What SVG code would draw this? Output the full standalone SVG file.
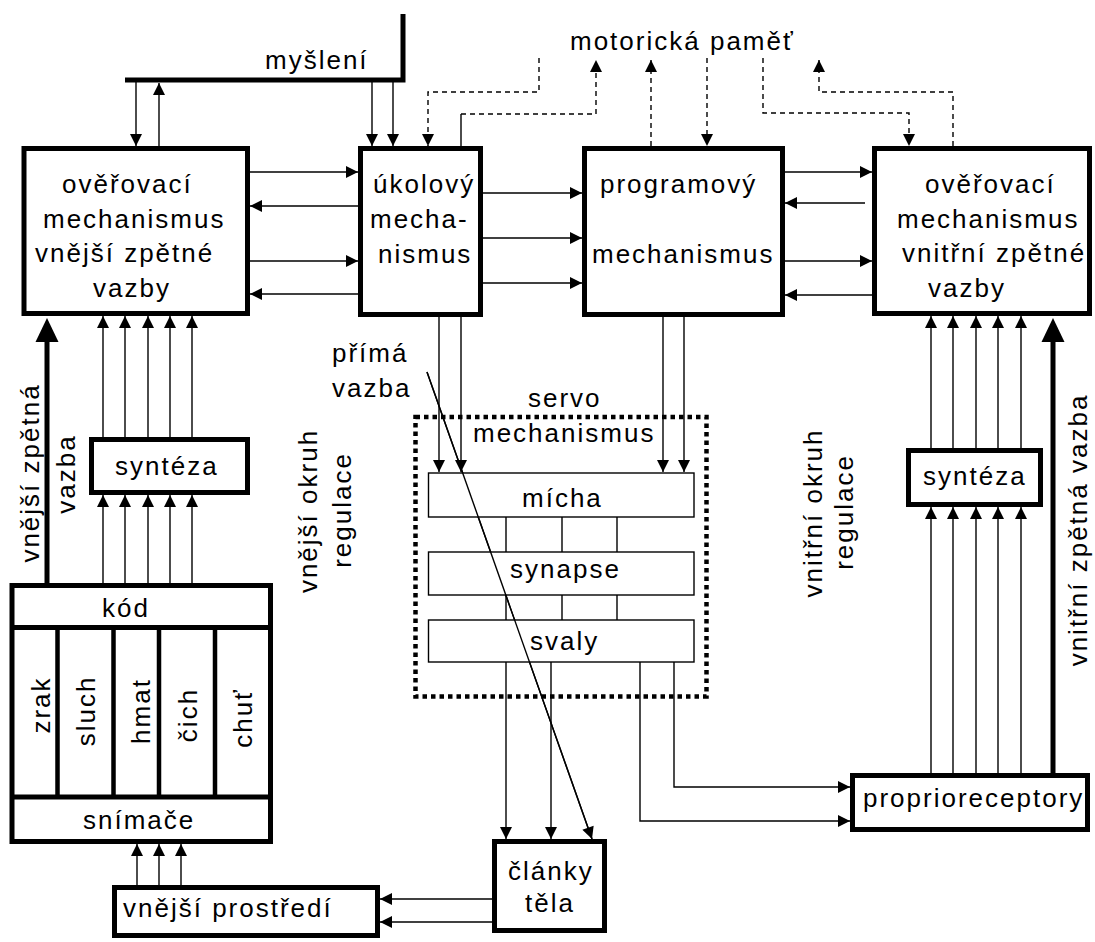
<svg xmlns="http://www.w3.org/2000/svg" width="1095" height="942" viewBox="0 0 1095 942">
  <defs>
    <style>
      text { font-family: "Liberation Sans", Arial, sans-serif; font-size: 26px; letter-spacing: 2px; fill: #000; }
      .box { fill: #fff; stroke: #000; stroke-width: 5; }
      .cell { fill: #fff; stroke: #000; stroke-width: 1.4; }
      .div { stroke: #000; stroke-width: 5; fill: none; }
      .ln { fill: none; stroke: #000; stroke-width: 1.4; }
      .ds { stroke-dasharray: 5 4; }
      .thick { fill: none; stroke: #000; stroke-width: 5; }
      .arr { marker-end: url(#ah); }
      .big { marker-end: url(#ahBig); }
    </style>
    <marker id="ah" markerUnits="userSpaceOnUse" markerWidth="12" markerHeight="12" refX="12" refY="6" orient="auto" overflow="visible">
      <path d="M0,0 L12,6 L0,12 Z" fill="#000"/>
    </marker>
    <marker id="ahBig" markerUnits="userSpaceOnUse" markerWidth="24" markerHeight="23" refX="0" refY="11.5" orient="auto" overflow="visible">
      <path d="M0,0 L24,11.5 L0,23 Z" fill="#000"/>
    </marker>
  </defs>

  <rect x="0" y="0" width="1095" height="942" fill="#fff"/>

  <!-- connectors -->
  <g id="connectors">
    <!-- thinking bar -->
    <path class="thick" d="M403,14 V80 H125"/>
    <path class="ln arr" d="M136,80 V146"/>
    <path class="ln arr" d="M159,146 V83"/>
    <path class="ln arr" d="M372,80 V146"/>
    <path class="ln arr" d="M393,80 V146"/>

    <!-- motor memory links -->
    <path class="ln ds arr" d="M539,58 V92 H428 V146"/>
    <path class="ln" d="M461,146 V114"/>
    <path class="ln ds arr" d="M461,114 H596 V60"/>
    <path class="ln ds arr" d="M651,146 V60"/>
    <path class="ln ds arr" d="M707,58 V146"/>
    <path class="ln ds arr" d="M763,58 V113 H909 V146"/>
    <path class="ln ds arr" d="M953,146 V92 H819 V60"/>

    <!-- between upper boxes -->
    <path class="ln arr" d="M250,172 H358"/>
    <path class="ln arr" d="M358,206 H250"/>
    <path class="ln arr" d="M250,261 H358"/>
    <path class="ln arr" d="M358,294 H250"/>
    <path class="ln arr" d="M483,193 H582"/>
    <path class="ln arr" d="M483,238 H582"/>
    <path class="ln arr" d="M483,283 H582"/>
    <path class="ln arr" d="M785,172 H872"/>
    <path class="ln arr" d="M865,203 H785"/>
    <path class="ln arr" d="M785,261 H872"/>
    <path class="ln arr" d="M872,295 H785"/>

    <!-- left column -->
    <path class="ln arr" d="M103,437 V316"/>
    <path class="ln arr" d="M125,437 V316"/>
    <path class="ln arr" d="M148,437 V316"/>
    <path class="ln arr" d="M170,437 V316"/>
    <path class="ln arr" d="M192,437 V316"/>
    <path class="ln arr" d="M103,583 V495"/>
    <path class="ln arr" d="M125,583 V495"/>
    <path class="ln arr" d="M148,583 V495"/>
    <path class="ln arr" d="M170,583 V495"/>
    <path class="ln arr" d="M192,583 V495"/>
    <path class="ln arr" d="M137,885 V844"/>
    <path class="ln arr" d="M159,885 V844"/>
    <path class="ln arr" d="M181,885 V844"/>
    <path class="thick big" d="M47,583 V342"/>

    <!-- right column -->
    <path class="ln arr" d="M931,448 V316"/>
    <path class="ln arr" d="M953,448 V316"/>
    <path class="ln arr" d="M976,448 V316"/>
    <path class="ln arr" d="M998,448 V316"/>
    <path class="ln arr" d="M1021,448 V316"/>
    <path class="ln arr" d="M931,773 V507"/>
    <path class="ln arr" d="M953,773 V507"/>
    <path class="ln arr" d="M976,773 V507"/>
    <path class="ln arr" d="M998,773 V507"/>
    <path class="ln arr" d="M1021,773 V507"/>
    <path class="thick big" d="M1053,774 V342"/>

    <!-- into the spinal cord -->
    <path class="ln arr" d="M439,317 V472"/>
    <path class="ln arr" d="M461,317 V472"/>
    <path class="ln arr" d="M663,317 V472"/>
    <path class="ln arr" d="M684,317 V472"/>

    <!-- servo internal links -->
    <path class="ln" d="M506,517 V552 M562,517 V552 M617,517 V552"/>
    <path class="ln" d="M506,595 V620 M562,595 V620 M617,595 V620"/>

    <!-- from muscles -->
    <path class="ln arr" d="M506,662 V839"/>
    <path class="ln arr" d="M551,662 V839"/>
    <path class="ln arr" d="M674,662 V787 H850"/>
    <path class="ln arr" d="M640,662 V821 H850"/>

    <!-- direct link -->
    <path class="ln arr" d="M427,372 L592,839"/>

    <!-- body segments to environment -->
    <path class="ln arr" d="M493,899 H380"/>
    <path class="ln arr" d="M493,922 H380"/>
  </g>

  <!-- labels without boxes -->
  <g id="labels">
    <text x="265" y="69">myšlení</text>
    <text x="570" y="50">motorická paměť</text>
    <text x="332" y="362">přímá</text>
    <text x="332" y="397">vazba</text>
    <text transform="translate(39,473) rotate(-90)" text-anchor="middle">vnější zpětná</text>
    <text transform="translate(75,474) rotate(-90)" text-anchor="middle">vazba</text>
    <text transform="translate(317,511) rotate(-90)" text-anchor="middle">vnější okruh</text>
    <text transform="translate(351,510) rotate(-90)" text-anchor="middle">regulace</text>
    <text transform="translate(822,513) rotate(-90)" text-anchor="middle">vnitřní okruh</text>
    <text transform="translate(853,512) rotate(-90)" text-anchor="middle">regulace</text>
    <text transform="translate(1087,530) rotate(-90)" text-anchor="middle">vnitřní zpětná vazba</text>
  </g>

  <g id="overovaci-vnejsi">
    <rect class="box" x="24" y="148.5" width="223.5" height="165"/>
    <text x="62" y="193">ověřovací</text>
    <text x="43" y="228">mechanismus</text>
    <text x="35" y="262">vnější zpětné</text>
    <text x="93" y="297">vazby</text>
  </g>

  <g id="ukolovy">
    <rect class="box" x="360.5" y="148.5" width="120" height="166"/>
    <text x="373" y="193">úkolový</text>
    <text x="370" y="228">mecha-</text>
    <text x="378" y="263">nismus</text>
  </g>

  <g id="programovy">
    <rect class="box" x="584.5" y="148.5" width="198" height="166"/>
    <text x="600" y="193">programový</text>
    <text x="592" y="263">mechanismus</text>
  </g>

  <g id="overovaci-vnitrni">
    <rect class="box" x="874.5" y="148.5" width="215" height="165"/>
    <text x="925" y="193">ověřovací</text>
    <text x="897" y="228">mechanismus</text>
    <text x="902" y="262">vnitřní zpětné</text>
    <text x="928" y="297">vazby</text>
  </g>

  <g id="synteza-vnejsi">
    <rect class="box" x="91.5" y="439.5" width="156" height="53"/>
    <text x="115" y="475">syntéza</text>
  </g>

  <g id="synteza-vnitrni">
    <rect class="box" x="908.5" y="450.5" width="132" height="54"/>
    <text x="923" y="485">syntéza</text>
  </g>

  <g id="smysly">
    <rect class="box" x="12" y="585.5" width="258.5" height="256"/>
    <path class="div" d="M12,627.5 H270.5 M12,797 H270.5"/>
    <path class="div" d="M57.5,627.5 V797 M113.5,627.5 V797 M159,627.5 V797 M215,627.5 V797" style="stroke-width:4.5"/>
    <text x="102" y="617">kód</text>
    <text x="83" y="829">snímače</text>
    <text transform="translate(50,705) rotate(-90)" text-anchor="middle">zrak</text>
    <text transform="translate(95,711) rotate(-90)" text-anchor="middle">sluch</text>
    <text transform="translate(150,711) rotate(-90)" text-anchor="middle">hmat</text>
    <text transform="translate(197,715) rotate(-90)" text-anchor="middle">čich</text>
    <text transform="translate(252,718) rotate(-90)" text-anchor="middle">chuť</text>
  </g>

  <g id="vnejsi-prostredi">
    <rect class="box" x="114.5" y="887.5" width="263" height="48"/>
    <text x="123" y="917">vnější prostředí</text>
  </g>

  <g id="servo">
    <rect x="415.5" y="417" width="291" height="279.5" fill="none" stroke="#000" stroke-width="4.5" stroke-dasharray="4.5 4"/>
    <text x="528" y="407">servo</text>
    <text x="473" y="442">mechanismus</text>
  </g>

  <g id="micha">
    <rect class="cell" x="428.5" y="473" width="265.5" height="44"/>
    <text x="522" y="507">mícha</text>
  </g>

  <g id="synapse">
    <rect class="cell" x="428.5" y="552" width="265.5" height="43"/>
    <text x="510" y="578">synapse</text>
  </g>

  <g id="svaly">
    <rect class="cell" x="428.5" y="620" width="265.5" height="42"/>
    <text x="530" y="650">svaly</text>
  </g>

  <g id="clanky-tela">
    <rect class="box" x="494.5" y="841.5" width="110" height="89"/>
    <text x="508" y="880">články</text>
    <text x="525" y="912">těla</text>
  </g>

  <g id="proprioreceptory">
    <rect class="box" x="852.5" y="775.5" width="235" height="54"/>
    <text x="863" y="807">proprioreceptory</text>
  </g>

  <!-- direct link passes over the servo cells -->
  <path class="ln" d="M427,372 L592,839" stroke-width="1.2"/>
</svg>
